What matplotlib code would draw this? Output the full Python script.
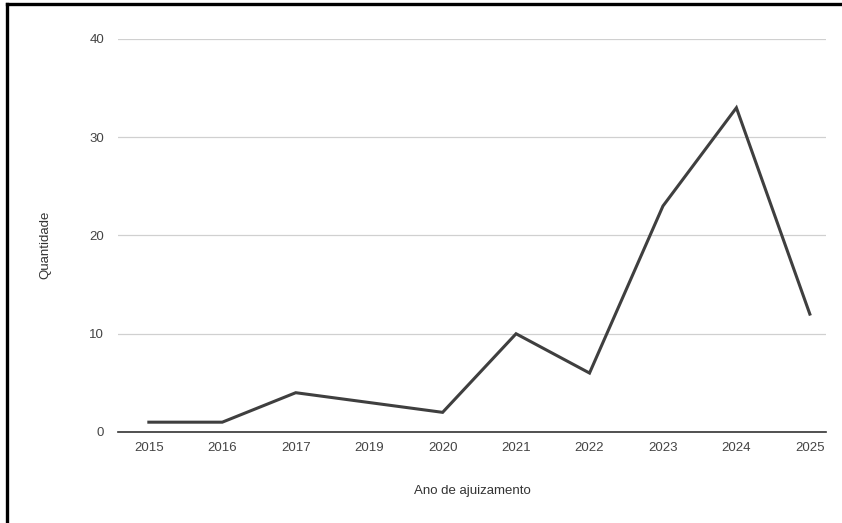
import matplotlib

matplotlib.use("Agg")
import matplotlib.pyplot as plt
from matplotlib.lines import Line2D

# data
anos = ["2015", "2016", "2017", "2019", "2020", "2021", "2022", "2023", "2024", "2025"]
quantidade = [1, 1, 4, 3, 2, 10, 6, 23, 33, 12]
y_ticks = [0, 10, 20, 30, 40]

plt.rcParams["font.family"] = ["Liberation Sans", "DejaVu Sans"]

W, H = 842, 523
fig = plt.figure(figsize=(W / 100, H / 100), dpi=100)
ax = fig.add_axes([118 / W, 1 - 432 / H, (826 - 118) / W, (432 - 39) / H])

x = list(range(len(anos)))
ax.plot(x, quantidade, color="#3f3f3f", linewidth=2.2, solid_joinstyle="miter", zorder=3)

ax.set_xlim(-0.42, len(anos) - 1 + 0.22)
ax.set_ylim(0, 40)
ax.set_xticks(x)
ax.set_xticklabels(anos)
ax.set_yticks(y_ticks)
ax.tick_params(axis="both", length=0, labelsize=9.5, colors="#444444")
ax.tick_params(axis="x", pad=7)
ax.tick_params(axis="y", pad=10)

ax.grid(axis="y", color="#d0d0d0", linewidth=0.9)
ax.set_axisbelow(True)
for side in ("top", "right", "left"):
    ax.spines[side].set_visible(False)
ax.spines["bottom"].set_color("#333333")
ax.spines["bottom"].set_linewidth(1.2)

fig.text(472 / W, 1 - 491 / H, "Ano de ajuizamento", ha="center", va="center",
         fontsize=9.5, color="#333333")
fig.text(45 / W, 1 - 245 / H, "Quantidade", ha="center", va="center",
         rotation=90, fontsize=9.5, color="#333333")

# outer frame (left and top edges of the scanned box)
fig.add_artist(Line2D([7 / W, 7 / W], [0, 1 - 4 / H], color="black", linewidth=2.4,
                      transform=fig.transFigure))
fig.add_artist(Line2D([7 / W, 1], [1 - 4 / H, 1 - 4 / H], color="black", linewidth=2.4,
                      transform=fig.transFigure))

fig.savefig("out.png", dpi=100)
